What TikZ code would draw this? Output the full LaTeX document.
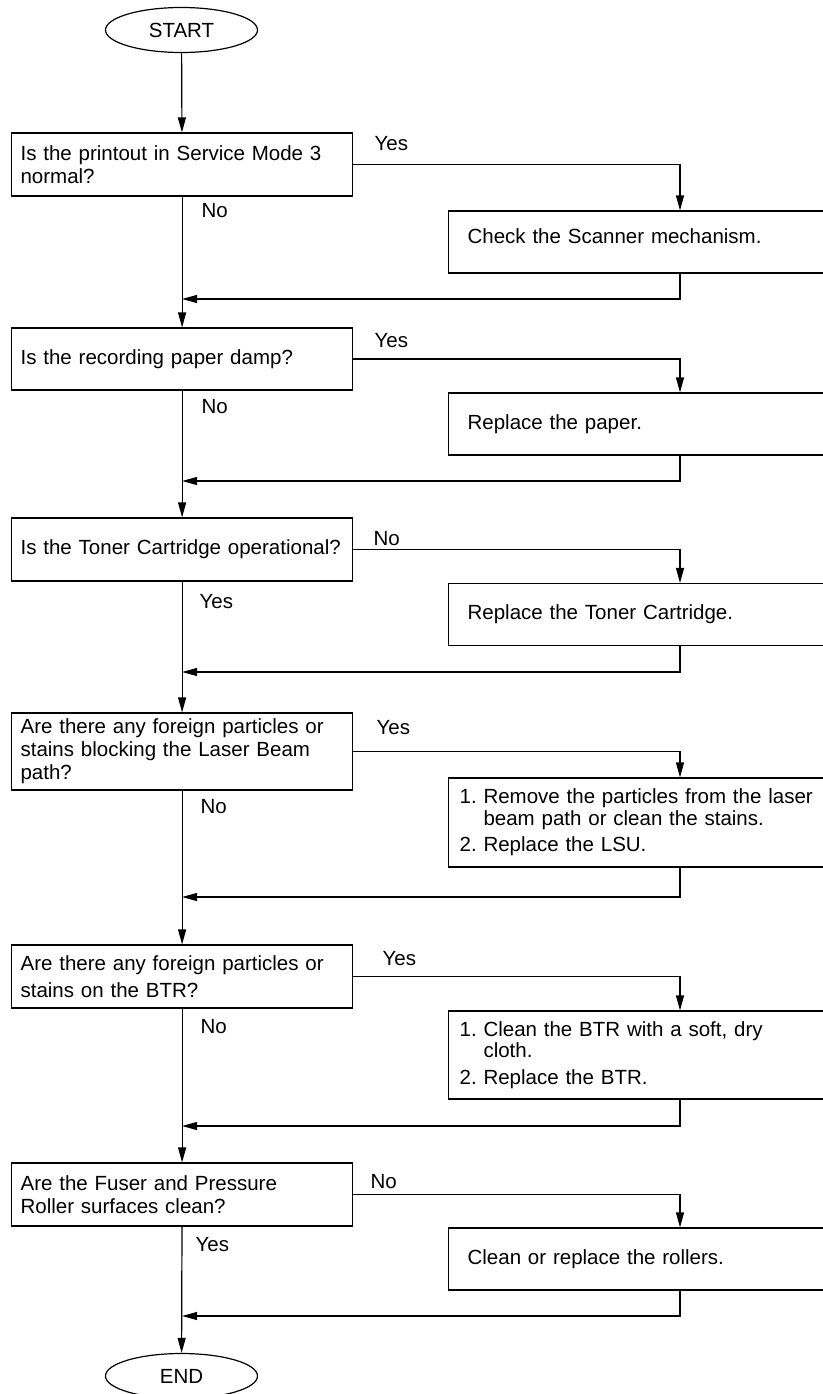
\documentclass[tikz,border=0pt]{standalone}
\usepackage{fontspec}
\setmainfont{Liberation Sans}
\usetikzlibrary{arrows.meta, shapes.geometric, positioning}

\begin{document}
\begin{tikzpicture}[x=1pt, y=-1pt, >={Triangle[length=15pt,width=8pt]}, line width=1.2pt,
  every node/.style={font=\fontsize{20.5}{23}\selectfont},
  terminal/.style={draw, ellipse, minimum width=152pt, minimum height=45pt, inner sep=0pt},
  question/.style={draw, anchor=west, minimum width=341pt, minimum height=63pt, text width=323pt, inner xsep=9pt, inner ysep=0pt, align=left},
  action/.style={draw, anchor=west, minimum width=378pt, minimum height=62pt, text width=340pt, inner xsep=19pt, inner ysep=0pt, align=left},
  steps/.style={action, text width=356pt, inner xsep=11pt, font=\fontsize{20.5}{21.5}\selectfont},
  answer/.style={anchor=base west, inner sep=0pt}]
  \useasboundingbox (0,0) rectangle (822,1394);

  \node[terminal] (start) at (181.5,30) {START};
  \node[terminal] (end) at (181.5,1376) {END};

  % questions on the left
  \node[question] (q1) at (11,164.5) {Is the printout in Service Mode 3\\normal?};
  \node[question, minimum height=62pt] (q2) at (11,359) {Is the recording paper damp?};
  \node[question] (q3) at (11,549.5) {Is the Toner Cartridge operational?};
  \node[question, minimum height=77pt] (q4) at (11,751.5) {Are there any foreign particles or\\stains blocking the Laser Beam\\path?};
  \node[question] (q5) at (11,976.5) {Are there any foreign particles or\\[4pt]stains on the BTR?};
  \node[question] (q6) at (11,1194.5) {Are the Fuser and Pressure\\Roller surfaces clean?};

  % actions on the right
  \node[action, text depth=12pt] (a1) at (448,242) {Check the Scanner mechanism.};
  \node[action] (a2) at (448,424) {Replace the paper.};
  \node[action] (a3) at (448,614.5) {Replace the Toner Cartridge.};
  \node[steps, minimum height=89pt] (a4) at (448,822.5) {1.\ Remove the particles from the laser\\\phantom{1.\ }beam path or clean the stains.\\[5pt]2.\ Replace the LSU.};
  \node[steps, minimum height=88pt] (a5) at (448,1055) {1.\ Clean the BTR with a soft, dry\\\phantom{1.\ }cloth.\\[5pt]2.\ Replace the BTR.};
  \node[action] (a6) at (448,1259) {Clean or replace the rollers.};

  % return points
  \coordinate (r1) at (680,299);
  \coordinate (r2) at (680,481);
  \coordinate (r3) at (680,672);
  \coordinate (r4) at (680,897);
  \coordinate (r5) at (680,1126);
  \coordinate (r6) at (680,1316);

  % answer labels
  \node[answer] (y1) at (374,150) {Yes};
  \node[answer] (n1) at (201,217) {No};
  \node[answer] (y2) at (374,347) {Yes};
  \node[answer] (n2) at (201,413) {No};
  \node[answer] (n3) at (373,545) {No};
  \node[answer] (y3) at (199,608) {Yes};
  \node[answer] (y4) at (376,734) {Yes};
  \node[answer] (n4) at (200,813) {No};
  \node[answer] (y5) at (382,965) {Yes};
  \node[answer] (n5) at (200,1033) {No};
  \node[answer] (n6) at (370,1188) {No};
  \node[answer] (y6) at (195,1251) {Yes};

  % main line
  \draw[->] (start) -- (q1);
  \draw[->] (q1) -- (q2);
  \draw[->] (q2) -- (q3);
  \draw[->] (q3) -- (q4);
  \draw[->] (q4) -- (q5);
  \draw[->] (q5) -- (q6);
  \draw[->] (q6) -- (end);

  % branches and returns
  \foreach \i in {1,...,6} {
    \draw[->] (q\i.east) -| (a\i.north -| r\i);
    \draw[->] (a\i.south -| r\i) -- (r\i) -- (r\i -| q\i.south);
  }
\end{tikzpicture}
\end{document}
